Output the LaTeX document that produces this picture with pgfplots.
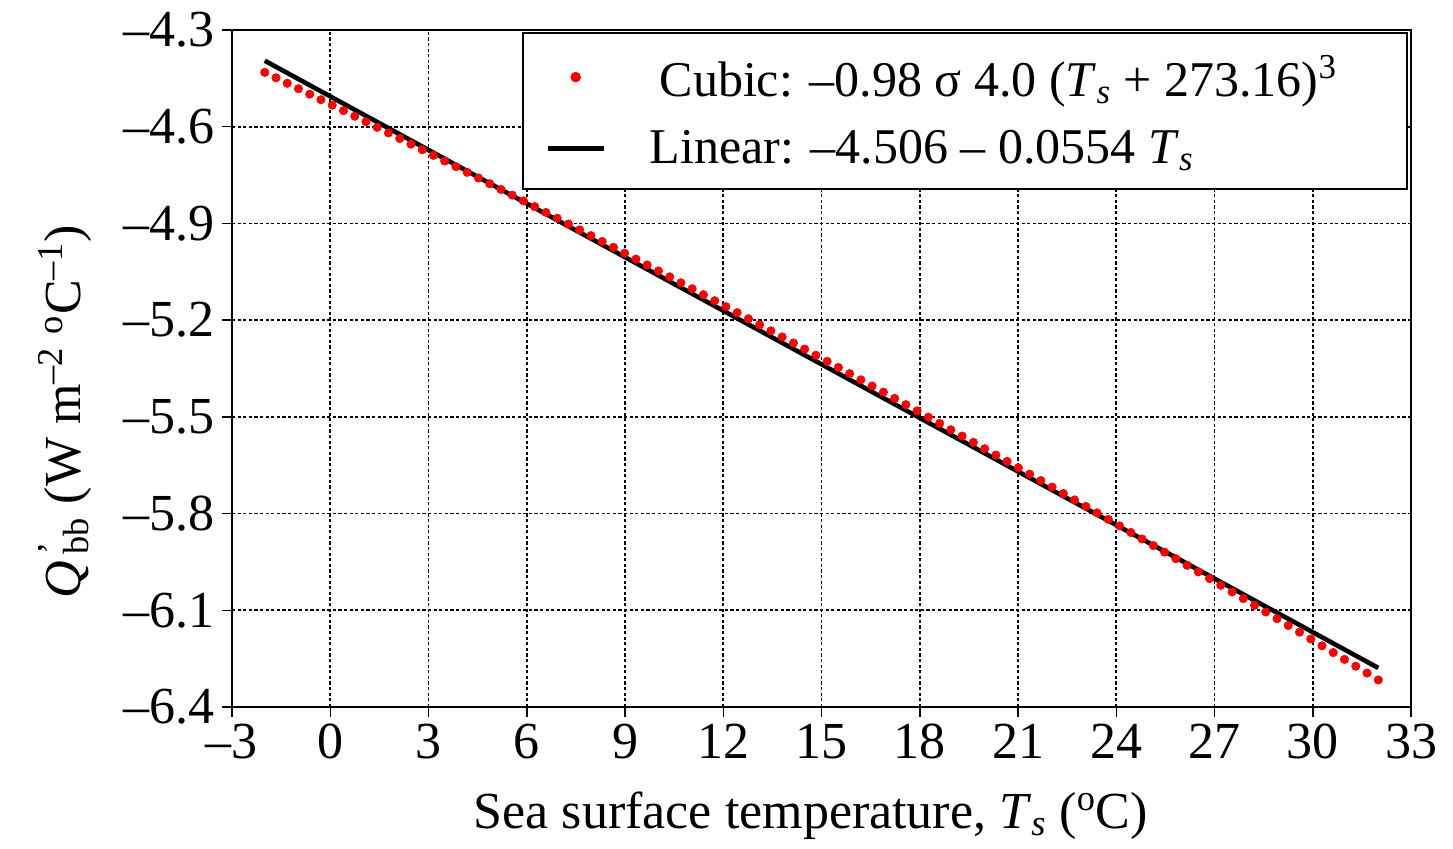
\documentclass[border=0pt]{standalone}
\usepackage{fontspec}
\setmainfont{Liberation Serif}
\usepackage{pgfplots}
\pgfplotsset{compat=1.18}

% derivative of the blackbody term, cubic (dots) and linear fit (line)
\pgfplotsset{
  dotleg/.style={legend image code/.code={\path[draw=none] (0pt,0pt) -- (46pt,0pt);
    \fill[red] (14pt,0pt) circle (2.1pt);}},
  lineleg/.style={legend image code/.code={\path[draw=none] (0pt,0pt) -- (46pt,0pt);
    \draw[##1] (0pt,0pt) -- (28pt,0pt);}},
}

\begin{document}
\begin{tikzpicture}
\begin{axis}[
  scale only axis,
  width=589.5pt, height=338.5pt,
  xmin=-3, xmax=33, ymin=-6.4, ymax=-4.3,
  xtick={-3,0,3,6,9,12,15,18,21,24,27,30,33},
  xticklabels={\textendash3,0,3,6,9,12,15,18,21,24,27,30,33},
  ytick={-6.4,-6.1,-5.8,-5.5,-5.2,-4.9,-4.6,-4.3},
  yticklabels={\textendash6.4,\textendash6.1,\textendash5.8,\textendash5.5,\textendash5.2,\textendash4.9,\textendash4.6,\textendash4.3},
  tick label style={font=\fontsize{26}{30}\selectfont},
  xtick pos=bottom, ytick pos=left,
  tick align=outside, major tick length=5pt,
  every tick/.style={black, line width=0.75pt},
  axis line style={black, line width=0.8pt},
  grid=major,
  major grid style={black, line width=0.85pt, dash pattern=on 1.6pt off 1.2pt},
  xlabel={Sea surface temperature, \textit{T}\textsubscript{\textit{s}} (\textsuperscript{o}C)},
  xlabel style={font=\fontsize{26}{30}\selectfont, at={(axis description cs:0.491,-0.16)}, anchor=center},
  ylabel={\textit{Q}\rlap{\textsuperscript{\,’}}\textsubscript{\,bb} (W m\textsuperscript{\textendash2} \textsuperscript{o}C\textsuperscript{\textendash1})},
  ylabel style={font=\fontsize{26}{30}\selectfont, at={(axis description cs:-0.1416,0.436)}, anchor=center},
  legend style={at={(0.9975,0.997)}, anchor=north east, draw=black, line width=1pt,
    font=\fontsize{25}{30}\selectfont, fill=white, inner xsep=11pt, inner ysep=9pt,
    row sep=11.5pt, cells={anchor=west}},
]
\addplot[only marks, mark=*, red, mark size=2.1pt, mark options={line width=0.3pt}, dotleg] coordinates {
(-2.0000,-4.4315) (-1.6566,-4.4483) (-1.3131,-4.4652) (-0.9697,-4.4822) (-0.6263,-4.4991)
(-0.2828,-4.5162) (0.0606,-4.5332) (0.4040,-4.5504) (0.7475,-4.5675) (1.0909,-4.5847)
(1.4343,-4.6020) (1.7778,-4.6193) (2.1212,-4.6366) (2.4646,-4.6540) (2.8081,-4.6714)
(3.1515,-4.6888) (3.4949,-4.7064) (3.8384,-4.7239) (4.1818,-4.7415) (4.5253,-4.7591)
(4.8687,-4.7768) (5.2121,-4.7945) (5.5556,-4.8123) (5.8990,-4.8301) (6.2424,-4.8480)
(6.5859,-4.8659) (6.9293,-4.8838) (7.2727,-4.9018) (7.6162,-4.9198) (7.9596,-4.9379)
(8.3030,-4.9560) (8.6465,-4.9742) (8.9899,-4.9924) (9.3333,-5.0106) (9.6768,-5.0289)
(10.0202,-5.0473) (10.3636,-5.0657) (10.7071,-5.0841) (11.0505,-5.1026) (11.3939,-5.1211)
(11.7374,-5.1397) (12.0808,-5.1583) (12.4242,-5.1769) (12.7677,-5.1956) (13.1111,-5.2144)
(13.4545,-5.2332) (13.7980,-5.2520) (14.1414,-5.2709) (14.4848,-5.2898) (14.8283,-5.3088)
(15.1717,-5.3278) (15.5152,-5.3468) (15.8586,-5.3659) (16.2020,-5.3851) (16.5455,-5.4043)
(16.8889,-5.4235) (17.2323,-5.4428) (17.5758,-5.4622) (17.9192,-5.4815) (18.2626,-5.5010)
(18.6061,-5.5204) (18.9495,-5.5400) (19.2929,-5.5595) (19.6364,-5.5791) (19.9798,-5.5988)
(20.3232,-5.6185) (20.6667,-5.6382) (21.0101,-5.6580) (21.3535,-5.6779) (21.6970,-5.6977)
(22.0404,-5.7177) (22.3838,-5.7377) (22.7273,-5.7577) (23.0707,-5.7778) (23.4141,-5.7979)
(23.7576,-5.8180) (24.1010,-5.8383) (24.4444,-5.8585) (24.7879,-5.8788) (25.1313,-5.8992)
(25.4747,-5.9196) (25.8182,-5.9400) (26.1616,-5.9605) (26.5051,-5.9810) (26.8485,-6.0016)
(27.1919,-6.0223) (27.5354,-6.0430) (27.8788,-6.0637) (28.2222,-6.0845) (28.5657,-6.1053)
(28.9091,-6.1262) (29.2525,-6.1471) (29.5960,-6.1680) (29.9394,-6.1891) (30.2828,-6.2101)
(30.6263,-6.2312) (30.9697,-6.2524) (31.3131,-6.2736) (31.6566,-6.2948) (32.0000,-6.3161)
};
\addlegendentry{\hspace*{8pt}Cubic: \textendash0.98 σ 4.0 (\textit{T}\textsubscript{\textit{s}} + 273.16)\textsuperscript{3}\hspace*{22pt}}
\addplot[black, line width=2.3pt, lineleg] coordinates {(-2,-4.3952) (32,-6.2788)};
\addlegendentry{\hspace*{3pt}Linear: \textendash4.506 \textendash{} 0.0554 \textit{T}\textsubscript{\textit{s}}}
\end{axis}
\pgfresetboundingbox
\path[use as bounding box] ([shift={(-116pt,-71pt)}]current axis.south west) rectangle ([shift={(21pt,15pt)}]current axis.north east);
\end{tikzpicture}
\end{document}
